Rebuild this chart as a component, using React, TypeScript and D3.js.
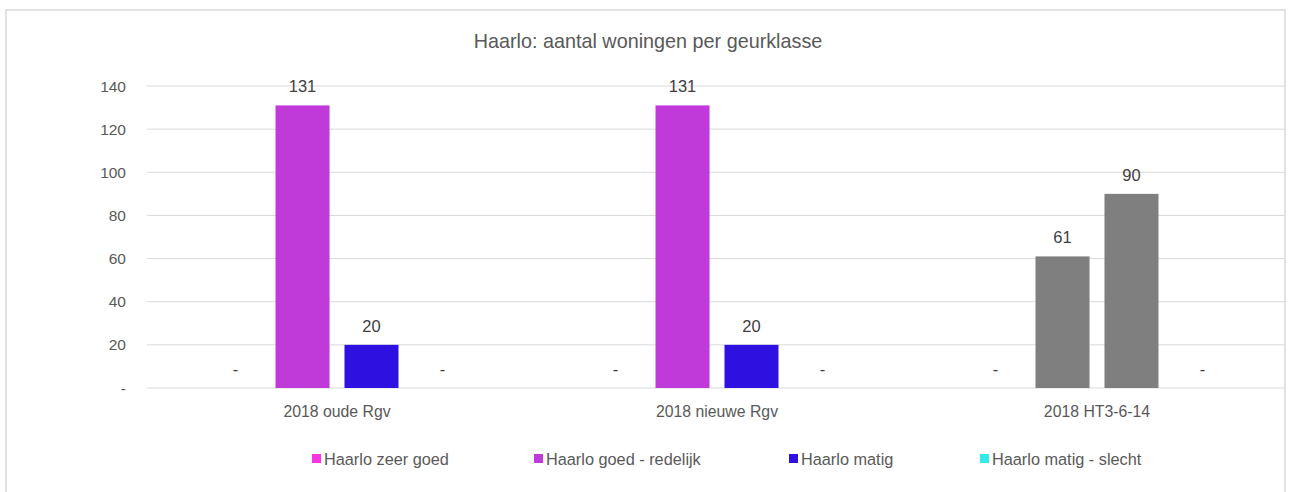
import React from "react";
import * as d3 from "d3";

const categories = ["2018 oude Rgv", "2018 nieuwe Rgv", "2018 HT3-6-14"];
const seriesNames = ["Haarlo zeer goed", "Haarlo goed - redelijk", "Haarlo matig", "Haarlo matig - slecht"];
const seriesColors = ["#F834E0", "#C039D9", "#2E10E0", "#33EAE6"];
const zeerGoed = [0, 0, 0];
const goedRedelijk = [131, 131, 61];
const matig = [20, 20, 90];
const matigSlecht = [0, 0, 0];
const seriesValues = [zeerGoed, goedRedelijk, matig, matigSlecht];
// the third category's bars are drawn grey in the reference
const overrideColors: (string | null)[] = [null, null, "#7F7F7F"];
const yTicks = [0, 20, 40, 60, 80, 100, 120, 140];
const legendX = [316, 538, 793, 984];

const W = 1292, H = 492;
const font = "'Liberation Sans', Arial, sans-serif";

export default function App() {
  const x0 = d3.scaleBand<string>().domain(categories).range([147, 1287]).padding(0);
  const bw0 = x0.bandwidth();
  const x1 = d3
    .scaleBand<number>()
    .domain(d3.range(seriesNames.length))
    .range([bw0 * 0.137, bw0 * 0.863])
    .paddingInner(0.217)
    .paddingOuter(0.1085);
  const y = d3.scaleLinear().domain([0, 140]).range([388, 86]);

  return (
    <svg width={W} height={H} style={{ position: "absolute", left: 0, top: 0, background: "#fff" }} fontFamily={font}>
      <rect x={6} y={10} width={1279} height={500} fill="#fff" stroke="#D9D9D9" strokeWidth={1.5} />
      <text x={648} y={48} textAnchor="middle" fontSize={19.8} fill="#595959">
        Haarlo: aantal woningen per geurklasse
      </text>
      {yTicks.map((t) => (
        <g key={t}>
          <line x1={147} x2={1285} y1={y(t)} y2={y(t)} stroke="#D9D9D9" strokeWidth={1} />
          <text x={126} y={y(t) + 5.5} textAnchor="end" fontSize={15.5} fill="#595959">
            {t === 0 ? "-" : t}
          </text>
        </g>
      ))}
      {categories.map((c, ci) => (
        <g key={c} transform={`translate(${x0(c)},0)`}>
          {seriesValues.map((vals, si) => {
            const v = vals[ci];
            const bx = x1(si)!;
            const bw = x1.bandwidth();
            const color = overrideColors[ci] ?? seriesColors[si];
            return (
              <g key={si}>
                {v > 0 && <rect x={bx} y={y(v)} width={bw} height={y(0) - y(v)} fill={color} />}
                <text x={bx + bw / 2 + (v === 0 ? 2 : 0)} y={y(v) - 13} textAnchor="middle" fontSize={16.5} fill="#404040">
                  {v === 0 ? "-" : v}
                </text>
              </g>
            );
          })}
          <text x={bw0 / 2} y={417} textAnchor="middle" fontSize={15.8} fill="#595959">
            {c}
          </text>
        </g>
      ))}
      {seriesNames.map((n, i) => (
        <g key={n}>
          <rect x={legendX[i] - 4} y={454} width={9} height={9} fill={seriesColors[i]} />
          <text x={legendX[i] + 8} y={465} fontSize={16.3} fill="#595959">
            {n}
          </text>
        </g>
      ))}
    </svg>
  );
}
